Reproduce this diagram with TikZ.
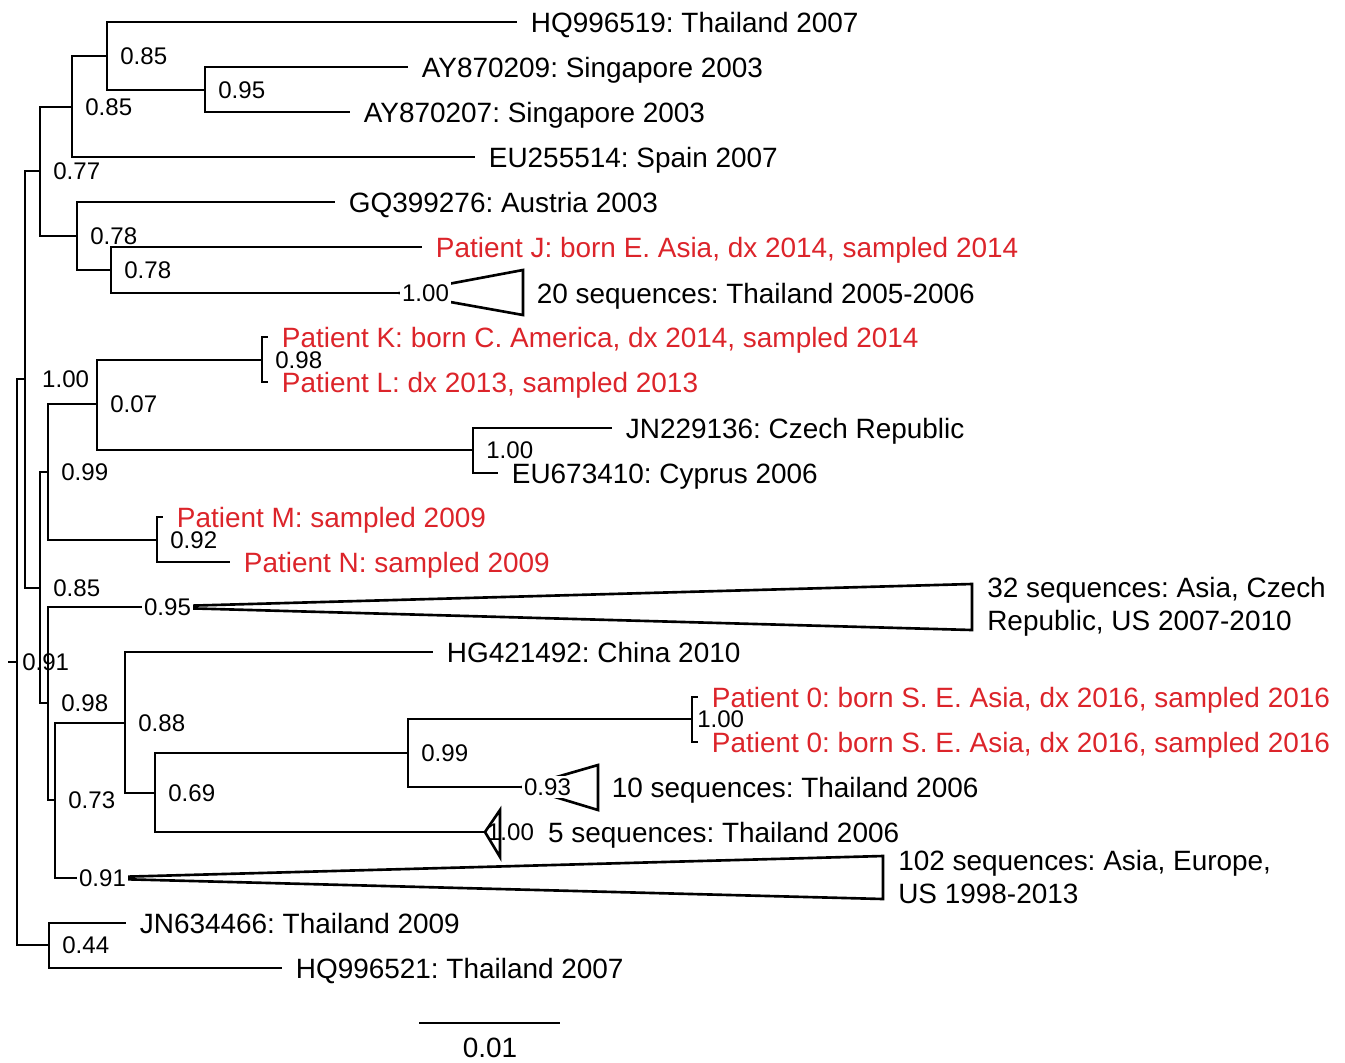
\documentclass[tikz,border=0pt]{standalone}
\usepackage{fontspec}
\setmainfont{Liberation Sans}
\frenchspacing
\usetikzlibrary{positioning}
\definecolor{patred}{RGB}{220,36,42}

\begin{document}
\begin{tikzpicture}[x=0.02cm,y=-0.02cm,
    tree/.style={line width=1.5pt},
    leaf/.style={anchor=west,inner xsep=7.7pt,inner ysep=0pt,text height=11.4pt,text depth=0pt,font=\fontsize{15.9}{18.7}\selectfont},
    patient/.style={leaf,text=patred},
    group/.style={anchor=west,inner xsep=8.5pt,inner ysep=0pt,align=left,font=\fontsize{15.9}{18.7}\selectfont},
    boot/.style={anchor=west,inner sep=0pt,xshift=#1,text height=9.8pt,text depth=0pt,font=\fontsize{13.7}{16}\selectfont},
    boot/.default=7.4pt,
    tipboot/.style={boot=0pt,fill=white,inner xsep=1pt,inner ysep=1.5pt}]
        \useasboundingbox (0,0) rectangle (1345,1062);
        % internal nodes
        \coordinate (stub) at (8,662);
        \coordinate (root) at (17,662);
        \coordinate (nA) at (25,379);
        \coordinate (nB) at (40,171);
        \coordinate (nB1) at (72,107);
        \coordinate (nB11) at (107,56);
        \coordinate (nB111) at (205,90);
        \coordinate (nB2) at (77,236);
        \coordinate (nB21) at (111,270);
        \coordinate (nC) at (40,588);
        \coordinate (nC1) at (48,472);
        \coordinate (nK) at (97,404);
        \coordinate (nKL) at (262,360);
        \coordinate (nJE) at (473,450);
        \coordinate (nM) at (157,540);
        \coordinate (nC2) at (48,703);
        \coordinate (nD) at (55,800);
        \coordinate (nE) at (125,723);
        \coordinate (nF) at (155,793);
        \coordinate (nG) at (408,753);
        \coordinate (nP) at (692,719);
        \coordinate (nZ) at (49,945);
        % tips
        \coordinate (tHQa) at (517,22);
        \coordinate (tAYa) at (408,67);
        \coordinate (tAYb) at (350,112);
        \coordinate (tEU) at (475,157);
        \coordinate (tGQ) at (335,202);
        \coordinate (tPJ) at (422,247);
        \coordinate (tT20) at (400,293);
        \coordinate (tPK) at (268,337);
        \coordinate (tPL) at (268,382);
        \coordinate (tJN) at (612,428);
        \coordinate (tEUb) at (498,473);
        \coordinate (tPM) at (163,517);
        \coordinate (tPN) at (230,562);
        \coordinate (tT32) at (142,607);
        \coordinate (tHG) at (433,652);
        \coordinate (tP0a) at (698,697);
        \coordinate (tP0b) at (698,742);
        \coordinate (tT10) at (522,787);
        \coordinate (tT5) at (485,832);
        \coordinate (tT102) at (77,878);
        \coordinate (tJNb) at (126,923);
        \coordinate (tHQb) at (282,968);
        % branches
        \draw[tree] (stub) -- (root);
        \draw[tree] (root) |- (nA) (root) |- (nZ);
        \draw[tree] (nA) |- (nB) (nA) |- (nC);
        \draw[tree] (nB) |- (nB1) (nB) |- (nB2);
        \draw[tree] (nB1) |- (nB11) (nB1) |- (tEU);
        \draw[tree] (nB11) |- (tHQa) (nB11) |- (nB111);
        \draw[tree] (nB111) |- (tAYa) (nB111) |- (tAYb);
        \draw[tree] (nB2) |- (tGQ) (nB2) |- (nB21);
        \draw[tree] (nB21) |- (tPJ) (nB21) |- (tT20);
        \draw[tree] (nC) |- (nC1) (nC) |- (nC2);
        \draw[tree] (nC1) |- (nK) (nC1) |- (nM);
        \draw[tree] (nK) |- (nKL) (nK) |- (nJE);
        \draw[tree] (nKL) |- (tPK) (nKL) |- (tPL);
        \draw[tree] (nJE) |- (tJN) (nJE) |- (tEUb);
        \draw[tree] (nM) |- (tPM) (nM) |- (tPN);
        \draw[tree] (nC2) |- (tT32) (nC2) |- (nD);
        \draw[tree] (nD) |- (nE) (nD) |- (tT102);
        \draw[tree] (nE) |- (tHG) (nE) |- (nF);
        \draw[tree] (nF) |- (nG) (nF) |- (tT5);
        \draw[tree] (nG) |- (nP) (nG) |- (tT10);
        \draw[tree] (nP) |- (tP0a) (nP) |- (tP0b);
        \draw[tree] (nZ) |- (tJNb) (nZ) |- (tHQb);
        % collapsed clades
        \draw[tree] (tT20) -- (523,270) -- (523,315) -- cycle;
        \draw[tree] (tT32) -- (972,584) -- (972,630) -- cycle;
        \draw[tree] (tT10) -- (598,765) -- (598,810) -- cycle;
        \draw[tree] (tT5) -- (500,810) -- (500,857) -- cycle;
        \draw[tree] (tT102) -- (883,856) -- (883,899) -- cycle;
        % support values
        \node[boot] (bB11) at (nB11) {0.85};
        \node[boot] (bB111) at (nB111) {0.95};
        \node[boot] (bB1) at (nB1) {0.85};
        \node[boot] (bB) at (nB) {0.77};
        \node[boot] (bB2) at (nB2) {0.78};
        \node[boot] (bB21) at (nB21) {0.78};
        \node[boot] (bKL) at (nKL) {0.98};
        \node[boot=9.6pt] (bA) at (nA) {1.00};
        \node[boot] (bK) at (nK) {0.07};
        \node[boot] (bJE) at (nJE) {1.00};
        \node[boot] (bC1) at (nC1) {0.99};
        \node[boot] (bM) at (nM) {0.92};
        \node[boot] (bC) at (nC) {0.85};
        \node[boot=2.8pt] (bR) at (root) {0.91};
        \node[boot] (bC2) at (nC2) {0.98};
        \node[boot] (bE) at (nE) {0.88};
        \node[boot=2.8pt] (bP) at (nP) {1.00};
        \node[boot] (bG) at (nG) {0.99};
        \node[boot] (bD) at (nD) {0.73};
        \node[boot] (bF) at (nF) {0.69};
        \node[boot] (bZ) at (nZ) {0.44};
        \node[tipboot] (bT20) at (tT20) {1.00};
        \node[tipboot] (bT32) at (tT32) {0.95};
        \node[tipboot] (bT10) at (tT10) {0.93};
        \node[tipboot] (bT102) at (tT102) {0.91};
        \node[boot=1pt] (bT5) at (tT5) {1.00};
        % taxa
        \node[leaf] (lHQa) at (tHQa) {HQ996519: Thailand 2007};
        \node[leaf] (lAYa) at (tAYa) {AY870209: Singapore 2003};
        \node[leaf] (lAYb) at (tAYb) {AY870207: Singapore 2003};
        \node[leaf] (lEU) at (tEU) {EU255514: Spain 2007};
        \node[leaf] (lGQ) at (tGQ) {GQ399276: Austria 2003};
        \node[patient] (lPJ) at (tPJ) {Patient J: born E. Asia, dx 2014, sampled 2014};
        \node[leaf] (lT20) at (523,293) {20 sequences: Thailand 2005-2006};
        \node[patient] (lPK) at (tPK) {Patient K: born C. America, dx 2014, sampled 2014};
        \node[patient] (lPL) at (tPL) {Patient L: dx 2013, sampled 2013};
        \node[leaf] (lJN) at (tJN) {JN229136: Czech Republic};
        \node[leaf] (lEUb) at (tEUb) {EU673410: Cyprus 2006};
        \node[patient] (lPM) at (tPM) {Patient M: sampled 2009};
        \node[patient] (lPN) at (tPN) {Patient N: sampled 2009};
        \node[group] (lT32) at (972,607) {32 sequences: Asia, Czech\\Republic, US 2007-2010};
        \node[leaf] (lHG) at (tHG) {HG421492: China 2010};
        \node[patient] (lP0a) at (tP0a) {Patient 0: born S. E. Asia, dx 2016, sampled 2016};
        \node[patient] (lP0b) at (tP0b) {Patient 0: born S. E. Asia, dx 2016, sampled 2016};
        \node[leaf] (lT10) at (598,787) {10 sequences: Thailand 2006};
        \node[leaf,right=0pt of bT5] (lT5) {5 sequences: Thailand 2006};
        \node[group] (lT102) at (883,877) {102 sequences: Asia, Europe,\\US 1998-2013};
        \node[leaf] (lJNb) at (tJNb) {JN634466: Thailand 2009};
        \node[leaf] (lHQb) at (tHQb) {HQ996521: Thailand 2007};
        % scale bar
        \coordinate (sbL) at (419,1023);
        \coordinate (sbR) at (560,1023);
        \draw[tree] (sbL) -- (sbR);
        \node[leaf,anchor=center,inner xsep=0pt] (sbT) at (490,1047) {0.01};
      \end{tikzpicture}
\end{document}
